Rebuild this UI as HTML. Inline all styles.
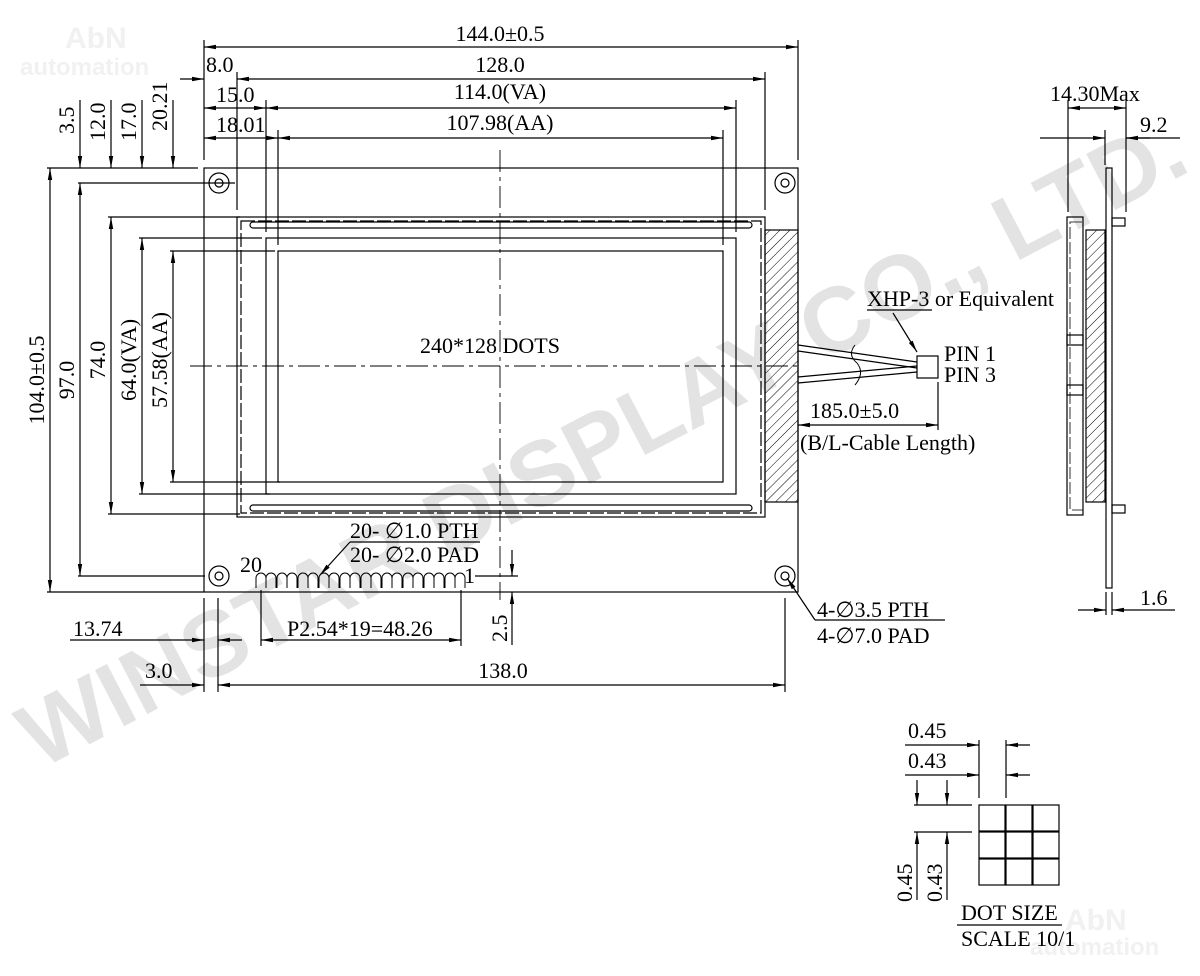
<!DOCTYPE html>
<html><head><meta charset="utf-8"><style>
html,body{margin:0;padding:0;background:#fff;}
svg{display:block;font-family:"Liberation Serif",serif;}
</style></head><body>
<svg width="1200" height="976" viewBox="0 0 1200 976" xmlns="http://www.w3.org/2000/svg">
<defs>
<marker id="a" viewBox="0 0 12 6" refX="12" refY="3" markerWidth="12" markerHeight="6" markerUnits="userSpaceOnUse" orient="auto-start-reverse"><path d="M0,0.8 L12,3 L0,5.2 Z" fill="#000"/></marker>
<pattern id="h" width="7" height="7" patternUnits="userSpaceOnUse" patternTransform="rotate(45)"><line x1="0" y1="0" x2="0" y2="7" stroke="#000" stroke-width="1"/></pattern>
</defs>
<g fill="#f1f1f1" font-family="Liberation Sans,sans-serif" font-weight="bold">
<text x="65" y="48" font-size="30">AbN</text><text x="20" y="75" font-size="24">automation</text>
<text x="1065" y="930" font-size="30">AbN</text><text x="1030" y="955" font-size="24">automation</text>
</g>
<text transform="translate(40,770) rotate(-27.5)" font-family="Liberation Sans,sans-serif" font-weight="bold" font-size="92" fill="#000" fill-opacity="0.11" textLength="1300" lengthAdjust="spacingAndGlyphs">WINSTAR DISPLAY CO., LTD.</text>
<g stroke="#000" stroke-width="1.2" fill="none">
<rect x="204" y="168" width="594" height="424"/>
<rect x="237" y="217" width="528" height="300"/>
<rect x="241" y="221" width="520" height="292" stroke-dasharray="14 3"/>
<rect x="250" y="222" width="502" height="6" rx="3"/>
<rect x="250" y="505" width="502" height="6" rx="3"/>
<rect x="266" y="238" width="470" height="256"/>
<rect x="278" y="251" width="445" height="231"/>
<rect x="765" y="230" width="33" height="272" fill="url(#h)"/>
<line x1="190" y1="366" x2="800" y2="366" stroke-dasharray="22 5 4 5" stroke-width="0.9"/>
<line x1="500" y1="150" x2="500" y2="600" stroke-dasharray="22 5 4 5" stroke-width="0.9"/>
<circle cx="219" cy="183" r="10"/><circle cx="219" cy="183" r="4"/>
<circle cx="785" cy="183" r="10"/><circle cx="785" cy="183" r="4"/>
<circle cx="219" cy="576" r="10"/><circle cx="219" cy="576" r="4"/>
<circle cx="785" cy="576" r="10"/><circle cx="785" cy="576" r="4"/>
<g stroke-width="1">
<path d="M256,588 V578 a5,5 0 0 1 10,0 V588 M266,588 V578 a5,5 0 0 1 10,0 V588 M277,588 V578 a5,5 0 0 1 10,0 V588 M287,588 V578 a5,5 0 0 1 10,0 V588 M298,588 V578 a5,5 0 0 1 10,0 V588 M308,588 V578 a5,5 0 0 1 10,0 V588 M319,588 V578 a5,5 0 0 1 10,0 V588 M329,588 V578 a5,5 0 0 1 10,0 V588 M340,588 V578 a5,5 0 0 1 10,0 V588 M350,588 V578 a5,5 0 0 1 10,0 V588 M361,588 V578 a5,5 0 0 1 10,0 V588 M371,588 V578 a5,5 0 0 1 10,0 V588 M382,588 V578 a5,5 0 0 1 10,0 V588 M392,588 V578 a5,5 0 0 1 10,0 V588 M403,588 V578 a5,5 0 0 1 10,0 V588 M413,588 V578 a5,5 0 0 1 10,0 V588 M424,588 V578 a5,5 0 0 1 10,0 V588 M434,588 V578 a5,5 0 0 1 10,0 V588 M445,588 V578 a5,5 0 0 1 10,0 V588 M455,588 V578 a5,5 0 0 1 10,0 V588"/>
</g>
<line x1="204" y1="40" x2="204" y2="160"/>
<line x1="798" y1="40" x2="798" y2="160"/>
<line x1="237" y1="72" x2="237" y2="210"/>
<line x1="765" y1="72" x2="765" y2="210"/>
<line x1="266" y1="100" x2="266" y2="232"/>
<line x1="736" y1="100" x2="736" y2="232"/>
<line x1="278" y1="130" x2="278" y2="245"/>
<line x1="723" y1="130" x2="723" y2="245"/>
<line x1="204" y1="47" x2="798" y2="47" marker-start="url(#a)" marker-end="url(#a)"/>
<line x1="180" y1="79" x2="204" y2="79" marker-end="url(#a)"/>
<line x1="237" y1="79" x2="765" y2="79" marker-start="url(#a)" marker-end="url(#a)"/>
<line x1="204" y1="108" x2="266" y2="108" marker-start="url(#a)" marker-end="url(#a)"/>
<line x1="266" y1="108" x2="736" y2="108" marker-start="url(#a)" marker-end="url(#a)"/>
<line x1="204" y1="138" x2="278" y2="138" marker-start="url(#a)" marker-end="url(#a)"/>
<line x1="278" y1="138" x2="723" y2="138" marker-start="url(#a)" marker-end="url(#a)"/>
<line x1="47" y1="168" x2="198" y2="168"/>
<line x1="78" y1="183" x2="235" y2="183"/>
<line x1="108" y1="217" x2="240" y2="217"/>
<line x1="139" y1="238" x2="262" y2="238"/>
<line x1="170" y1="251" x2="275" y2="251"/>
<line x1="170" y1="482" x2="280" y2="482"/>
<line x1="139" y1="494" x2="270" y2="494"/>
<line x1="108" y1="514" x2="240" y2="514"/>
<line x1="78" y1="576" x2="205" y2="576"/>
<line x1="47" y1="592" x2="204" y2="592"/>
<line x1="80" y1="100" x2="80" y2="168" marker-end="url(#a)"/>
<line x1="111" y1="100" x2="111" y2="168" marker-end="url(#a)"/>
<line x1="142" y1="100" x2="142" y2="168" marker-end="url(#a)"/>
<line x1="173" y1="100" x2="173" y2="168" marker-end="url(#a)"/>
<line x1="50" y1="168" x2="50" y2="592" marker-start="url(#a)" marker-end="url(#a)"/>
<line x1="80" y1="183" x2="80" y2="576" marker-start="url(#a)" marker-end="url(#a)"/>
<line x1="111" y1="217" x2="111" y2="514" marker-start="url(#a)" marker-end="url(#a)"/>
<line x1="142" y1="238" x2="142" y2="494" marker-start="url(#a)" marker-end="url(#a)"/>
<line x1="173" y1="251" x2="173" y2="482" marker-start="url(#a)" marker-end="url(#a)"/>
<line x1="204" y1="598" x2="204" y2="692"/>
<line x1="218" y1="598" x2="218" y2="692"/>
<line x1="785" y1="598" x2="785" y2="692"/>
<line x1="261" y1="590" x2="261" y2="646"/>
<line x1="461" y1="590" x2="461" y2="646"/>
<line x1="70" y1="640" x2="204" y2="640" marker-end="url(#a)"/>
<line x1="242" y1="640" x2="218" y2="640" marker-end="url(#a)"/>
<line x1="261" y1="640" x2="461" y2="640" marker-start="url(#a)" marker-end="url(#a)"/>
<line x1="140" y1="685" x2="204" y2="685" marker-end="url(#a)"/>
<line x1="218" y1="685" x2="785" y2="685" marker-start="url(#a)" marker-end="url(#a)"/>
<line x1="475" y1="576" x2="518" y2="576"/>
<line x1="512" y1="550" x2="512" y2="576" marker-end="url(#a)"/>
<line x1="512" y1="645" x2="512" y2="592" marker-end="url(#a)"/>
<line x1="350" y1="542" x2="480" y2="542"/>
<line x1="350" y1="542" x2="320" y2="575" marker-end="url(#a)"/>
<line x1="815" y1="620" x2="945" y2="620"/>
<line x1="815" y1="620" x2="787" y2="578" marker-end="url(#a)"/>
<line x1="798" y1="345" x2="917" y2="362"/>
<line x1="798" y1="351" x2="917" y2="368"/>
<line x1="798" y1="383" x2="917" y2="372"/>
<line x1="798" y1="377" x2="917" y2="366"/>
<path d="M855,345 q-8,10 2,18 q8,10 -2,22" stroke-width="1"/>
<rect x="917" y="356" width="21" height="22"/>
<line x1="867" y1="310" x2="932" y2="310"/>
<line x1="893" y1="313" x2="917" y2="352" marker-end="url(#a)"/>
<line x1="938" y1="382" x2="938" y2="430"/>
<line x1="798" y1="425" x2="938" y2="425" marker-start="url(#a)" marker-end="url(#a)"/>
<rect x="1106" y="168" width="6" height="420"/>
<rect x="1067" y="217" width="16" height="298"/>
<rect x="1070" y="222" width="13" height="288" stroke-dasharray="12 3" stroke-width="0.8"/>
<rect x="1086" y="230" width="19" height="272" fill="url(#h)"/>
<rect x="1112" y="218" width="13" height="8"/>
<rect x="1112" y="505" width="13" height="8"/>
<rect x="1067" y="335" width="16" height="10"/>
<rect x="1067" y="385" width="16" height="10"/>
<line x1="1068" y1="100" x2="1068" y2="212"/>
<line x1="1126" y1="100" x2="1126" y2="212"/>
<line x1="1105" y1="130" x2="1105" y2="165"/>
<line x1="1068" y1="108" x2="1126" y2="108" marker-start="url(#a)" marker-end="url(#a)"/>
<line x1="1040" y1="138" x2="1105" y2="138" marker-end="url(#a)"/>
<line x1="1150" y1="138" x2="1126" y2="138" marker-end="url(#a)"/>
<line x1="1126" y1="138" x2="1180" y2="138"/>
<line x1="1106" y1="592" x2="1106" y2="615"/>
<line x1="1112" y1="592" x2="1112" y2="615"/>
<line x1="1078" y1="610" x2="1106" y2="610" marker-end="url(#a)"/>
<line x1="1140" y1="610" x2="1112" y2="610" marker-end="url(#a)"/>
<line x1="1140" y1="610" x2="1175" y2="610"/>
<rect x="979" y="805" width="26" height="26"/><rect x="1006" y="805" width="26" height="26"/><rect x="1033" y="805" width="26" height="26"/>
<rect x="979" y="832" width="26" height="26"/><rect x="1006" y="832" width="26" height="26"/><rect x="1033" y="832" width="26" height="26"/>
<rect x="979" y="859" width="26" height="26"/><rect x="1006" y="859" width="26" height="26"/><rect x="1033" y="859" width="26" height="26"/>
<line x1="979" y1="740" x2="979" y2="798"/>
<line x1="1006" y1="740" x2="1006" y2="798"/>
<line x1="905" y1="745" x2="979" y2="745" marker-end="url(#a)"/>
<line x1="1030" y1="745" x2="1006" y2="745" marker-end="url(#a)"/>
<line x1="905" y1="775" x2="979" y2="775" marker-end="url(#a)"/>
<line x1="1030" y1="775" x2="1006" y2="775" marker-end="url(#a)"/>
<line x1="914" y1="805" x2="972" y2="805"/>
<line x1="914" y1="832" x2="972" y2="832"/>
<line x1="917" y1="780" x2="917" y2="805" marker-end="url(#a)"/>
<line x1="917" y1="900" x2="917" y2="832" marker-end="url(#a)"/>
<line x1="947" y1="780" x2="947" y2="805" marker-end="url(#a)"/>
<line x1="947" y1="900" x2="947" y2="832" marker-end="url(#a)"/>
<line x1="957" y1="925" x2="1062" y2="925"/>
</g>
<g fill="#000" font-size="22">
<text x="500" y="41" text-anchor="middle">144.0±0.5</text>
<text x="206" y="72">8.0</text>
<text x="500" y="72" text-anchor="middle">128.0</text>
<text x="216" y="102">15.0</text>
<text x="500" y="99" text-anchor="middle">114.0(VA)</text>
<text x="216" y="132">18.01</text>
<text x="500" y="130" text-anchor="middle">107.98(AA)</text>
<text transform="translate(74,134) rotate(-90)">3.5</text>
<text transform="translate(105,141) rotate(-90)">12.0</text>
<text transform="translate(136,141) rotate(-90)">17.0</text>
<text transform="translate(167,131) rotate(-90)">20.21</text>
<text transform="translate(44,380) rotate(-90)" text-anchor="middle">104.0±0.5</text>
<text transform="translate(74,380) rotate(-90)" text-anchor="middle">97.0</text>
<text transform="translate(105,360) rotate(-90)" text-anchor="middle">74.0</text>
<text transform="translate(136,360) rotate(-90)" text-anchor="middle">64.0(VA)</text>
<text transform="translate(167,360) rotate(-90)" text-anchor="middle">57.58(AA)</text>
<text x="490" y="353" text-anchor="middle">240*128 DOTS</text>
<text x="350" y="538">20- ∅1.0 PTH</text>
<text x="350" y="562">20- ∅2.0 PAD</text>
<text x="240" y="572">20</text>
<text x="464" y="583">1</text>
<text x="73" y="636">13.74</text>
<text x="287" y="636">P2.54*19=48.26</text>
<text transform="translate(507,642) rotate(-90)">2.5</text>
<text x="145" y="678">3.0</text>
<text x="503" y="678" text-anchor="middle">138.0</text>
<text x="817" y="617">4-∅3.5 PTH</text>
<text x="817" y="643">4-∅7.0 PAD</text>
<text x="867" y="306">XHP-3 or Equivalent</text>
<text x="944" y="361">PIN 1</text>
<text x="944" y="382">PIN 3</text>
<text x="810" y="418">185.0±5.0</text>
<text x="800" y="450">(B/L-Cable Length)</text>
<text x="1050" y="101">14.30Max</text>
<text x="1140" y="132">9.2</text>
<text x="1140" y="605">1.6</text>
<text x="908" y="738">0.45</text>
<text x="908" y="768">0.43</text>
<text transform="translate(912,902) rotate(-90)">0.45</text>
<text transform="translate(942,902) rotate(-90)">0.43</text>
<text x="961" y="920">DOT SIZE</text>
<text x="961" y="946">SCALE 10/1</text>
</g>
</svg>
</body></html>
